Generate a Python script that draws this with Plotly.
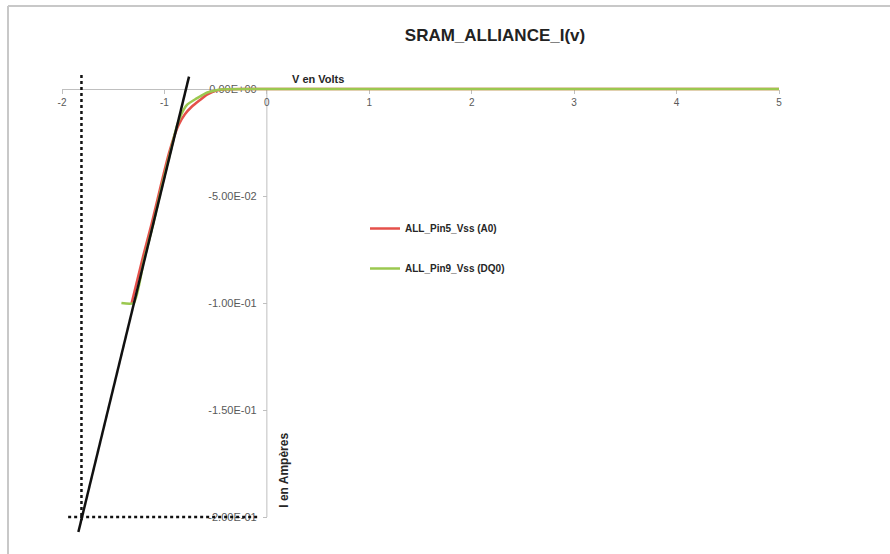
import plotly.graph_objects as go

# ---- data ----
v_red = [-1.32, -1.21, -1.124, -1.04, -0.95, -0.864, -0.80, -0.734, -0.652, -0.58, -0.50, -0.40, 0, 1, 2, 3, 4, 5]
i_red = [-0.1, -0.0785, -0.0628, -0.0460, -0.0290, -0.0170, -0.0118, -0.0083, -0.0051, -0.0025, -0.0008, -0.0001, 0, 0, 0, 0, 0, 0]

v_green = [-1.42, -1.30, -1.20, -1.108, -1.026, -0.945, -0.88, -0.831, -0.782, -0.685, -0.60, -0.555, -0.45, 0, 1, 2, 3, 4, 5]
i_green = [-0.1, -0.1, -0.080, -0.0628, -0.0456, -0.030, -0.0176, -0.0114, -0.0075, -0.0044, -0.002, -0.0013, -0.0002, 0, 0, 0, 0, 0, 0]

tangent_v = [-0.76, -1.84]
tangent_i = [0.0058, -0.207]

vdot_v = [-1.81, -1.81]
vdot_i = [0.0065, -0.2015]
hdot_v = [-1.94, -0.09]
hdot_i = [-0.2, -0.2]

series_names = ["ALL_Pin5_Vss (A0)", "ALL_Pin9_Vss (DQ0)"]

x_ticks = [-2, -1, 0, 1, 2, 3, 4, 5]
x_ticklabels = ["-2", "-1", "0", "1", "2", "3", "4", "5"]
y_ticks = [0, -0.05, -0.1, -0.15, -0.2]
y_ticklabels = ["0.00E+00", "-5.00E-02", "-1.00E-01", "-1.50E-01", "-2.00E-01"]

# ---- layout geometry ----
x_range = [-2, 5]
y_range = [-0.208411, 0.015888]
x_axis_pos = (0 - y_range[0]) / (y_range[1] - y_range[0])
y_axis_pos = (0 - x_range[0]) / (x_range[1] - x_range[0])

RED = "#E5504A"
GREEN = "#9BC850"
AX = "#BFBFBF"
FONT = "Liberation Sans"

fig = go.Figure()
fig.add_trace(go.Scatter(x=v_red, y=i_red, mode="lines", name=series_names[0],
                         line=dict(color=RED, width=2.5, shape="spline", smoothing=0.8),
                         legendgroup="a"))
fig.add_trace(go.Scatter(x=v_green, y=i_green, mode="lines", name=series_names[1],
                         line=dict(color=GREEN, width=2.5, shape="spline", smoothing=0.6),
                         legendgroup="b"))
fig.add_trace(go.Scatter(x=vdot_v, y=vdot_i, mode="lines", showlegend=False,
                         line=dict(color="#111111", width=2.5, dash="dot")))
fig.add_trace(go.Scatter(x=hdot_v, y=hdot_i, mode="lines", showlegend=False,
                         line=dict(color="#111111", width=2.5, dash="dot")))
fig.add_trace(go.Scatter(x=tangent_v, y=tangent_i, mode="lines", showlegend=False,
                         line=dict(color="#111111", width=2.5)))

fig.update_layout(
    width=890, height=554,
    margin=dict(l=62, r=111, t=55, b=19),
    paper_bgcolor="white", plot_bgcolor="white",
    font=dict(family=FONT, color="#595959"),
    title=dict(text="<b>SRAM_ALLIANCE_I(v)</b>", x=495 / 890, xref="container", xanchor="center",
               y=1 - 35 / 554, yref="container", yanchor="middle",
               font=dict(family=FONT, size=17, color="#222222")),
    xaxis=dict(range=x_range, anchor="free", position=x_axis_pos, side="bottom",
               showgrid=False, zeroline=False, showline=True, linecolor=AX, linewidth=1,
               ticks="outside", ticklen=4, tickcolor=AX,
               tickvals=x_ticks, ticktext=x_ticklabels,
               tickfont=dict(family=FONT, size=10, color="#595959"),
               layer="below traces", fixedrange=True),
    yaxis=dict(range=y_range, anchor="free", position=y_axis_pos, side="left",
               showgrid=False, zeroline=False, showline=False,
               ticks="outside", ticklen=4, tickcolor=AX, ticklabelstandoff=4,
               tickvals=y_ticks, ticktext=y_ticklabels,
               tickfont=dict(family=FONT, size=11, color="#595959"),
               layer="below traces", fixedrange=True),
    legend=dict(x=(365 - 62) / 717, y=(535 - 214) / 480, xanchor="left", yanchor="top",
                bgcolor="rgba(0,0,0,0)", tracegroupgap=21, traceorder="grouped",
                font=dict(family=FONT, size=10, color="#262626", weight="bold"), itemwidth=30),
    showlegend=True,
)

# y axis line only between 0 and -0.2
fig.add_shape(type="line", xref="x", yref="y", x0=0, x1=0, y0=y_ticks[-1], y1=y_ticks[0],
              line=dict(color=AX, width=1), layer="below")

# outer frame (top and left edges)
fig.add_shape(type="line", xref="paper", yref="paper", x0=(8 - 62) / 717, x1=(890 - 62) / 717,
              y0=(535 - 6) / 480, y1=(535 - 6) / 480, line=dict(color="#C8C8C8", width=2))
fig.add_shape(type="line", xref="paper", yref="paper", x0=(8 - 62) / 717, x1=(8 - 62) / 717,
              y0=(535 - 6) / 480, y1=(535 - 560) / 480, line=dict(color="#C8C8C8", width=2))

# axis titles
fig.add_annotation(text="<b>V en Volts</b>", x=0.5, y=0, xref="x", yref="y",
                   xanchor="center", yanchor="bottom", yshift=2, showarrow=False,
                   font=dict(family=FONT, size=11, color="#262626"))
fig.add_annotation(text="<b>I en Ampères</b>", x=0, y=-0.178, xref="x", yref="y",
                   xanchor="left", yanchor="middle", xshift=8, textangle=-90, showarrow=False,
                   font=dict(family=FONT, size=12, color="#262626"))

fig.write_html("out.html", config={"displayModeBar": False},
               post_script="document.body.style.margin='0px';")
